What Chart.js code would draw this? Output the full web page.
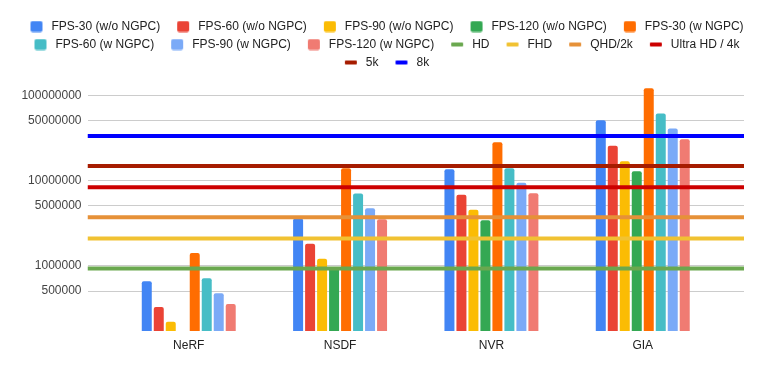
<!DOCTYPE html>
<html>
<head>
<meta charset="utf-8">
<script src="https://cdn.jsdelivr.net/npm/chart.js@4/dist/chart.umd.min.js"></script>
<style>
  html, body { margin: 0; padding: 0; background: #fff; }
  #wrap { width: 763px; height: 371px; }
</style>
</head>
<body>
<div id="wrap"><canvas id="chart"></canvas></div>
<script>
const categories = ["NeRF", "NSDF", "NVR", "GIA"];

// pixels per second
const fps30NoNgpc = [650000, 3550000, 13500000, 51000000];
const fps60NoNgpc = [325000, 1800000, 6750000, 25500000];
const fps90NoNgpc = [217000, 1200000, 4500000, 16800000];
const fps120NoNgpc = [null, 920000, 3400000, 12800000]; // NeRF bar falls below the axis
const fps30Ngpc = [1400000, 13900000, 28000000, 121000000];
const fps60Ngpc = [705000, 7000000, 13900000, 61000000];
const fps90Ngpc = [470000, 4700000, 9400000, 40800000];
const fps120Ngpc = [352000, 3500000, 7050000, 30500000];

const seriesLabels = [
  "FPS-30 (w/o NGPC)", "FPS-60 (w/o NGPC)", "FPS-90 (w/o NGPC)", "FPS-120 (w/o NGPC)",
  "FPS-30 (w NGPC)", "FPS-60 (w NGPC)", "FPS-90 (w NGPC)", "FPS-120 (w NGPC)",
];
const seriesValues = [
  fps30NoNgpc, fps60NoNgpc, fps90NoNgpc, fps120NoNgpc,
  fps30Ngpc, fps60Ngpc, fps90Ngpc, fps120Ngpc,
];
const seriesColors = [
  "#4285f4", "#ea4335", "#fbbc04", "#34a853",
  "#ff6d01", "#46bdc6", "#7baaf7", "#f07b72",
];

const resolutionLabels = ["HD", "FHD", "QHD/2k", "Ultra HD / 4k", "5k", "8k"];
const resolutionPixels = [921600, 2073600, 3686400, 8294400, 14745600, 33177600];
const resolutionColors = ["#6aa84f", "#f1c232", "#e69138", "#cc0000", "#a61c00", "#0000ff"];

const yTicks = [500000, 1000000, 5000000, 10000000, 50000000, 100000000];
const Y_MIN = 169000;
const Y_MAX = 157500000;
const X_MIN = -0.669;
const X_MAX = 3.669;

Chart.defaults.font.family = "'Liberation Sans', Arial, sans-serif";
Chart.defaults.font.size = 12;

function makeIcon(color, isLine) {
  const c = document.createElement("canvas");
  c.width = 26;
  c.height = 12;
  const g = c.getContext("2d");
  g.fillStyle = color;
  g.beginPath();
  if (isLine) {
    g.roundRect(11, 4, 12, 4, 1);
  } else {
    g.roundRect(11, 0.5, 12, 11, 2);
  }
  g.fill();
  return c;
}

const legendIcons = [];

const datasets = [];
seriesLabels.forEach(function (label, i) {
  datasets.push({
    type: "bar",
    label: label,
    data: seriesValues[i].map((v, j) => ({ x: j, y: v })),
    backgroundColor: seriesColors[i],
    borderRadius: 2,
    categoryPercentage: 0.634,
    barPercentage: 0.833,
  });
  legendIcons.push(makeIcon(seriesColors[i], false));
});
resolutionLabels.forEach(function (label, i) {
  datasets.push({
    type: "line",
    label: label,
    data: [
      { x: X_MIN, y: resolutionPixels[i] },
      { x: X_MAX, y: resolutionPixels[i] },
    ],
    borderColor: resolutionColors[i],
    backgroundColor: resolutionColors[i],
    borderWidth: 4,
    pointRadius: 0,
    fill: false,
    order: -1,
  });
  legendIcons.push(makeIcon(resolutionColors[i], true));
});

new Chart(document.getElementById("chart"), {
  type: "bar",
  data: { datasets: datasets },
  options: {
    responsive: true,
    maintainAspectRatio: false,
    animation: false,
    layout: { padding: { top: 14.5, bottom: 11.5, left: 0, right: 0 } },
    plugins: {
      tooltip: { enabled: false },
      legend: {
        position: "top",
        labels: {
          usePointStyle: true,
          pointStyleWidth: 26,
          boxHeight: 12,
          padding: 6,
          color: "#222",
          font: { size: 12 },
          generateLabels: function (chart) {
            return chart.data.datasets.map(function (ds, i) {
              return {
                text: ds.label,
                pointStyle: legendIcons[i],
                fillStyle: ds.backgroundColor,
                strokeStyle: ds.backgroundColor,
                lineWidth: 0,
                fontColor: "#222",
                hidden: !chart.isDatasetVisible(i),
                datasetIndex: i,
              };
            });
          },
        },
      },
    },
    scales: {
      x: {
        type: "linear",
        offset: false,
        min: X_MIN,
        max: X_MAX,
        grid: { display: false, drawTicks: false },
        border: { display: false },
        afterBuildTicks: function (axis) {
          axis.ticks = categories.map((c, i) => ({ value: i }));
        },
        ticks: {
          autoSkip: false,
          maxRotation: 0,
          padding: 7,
          color: "#222",
          callback: (value) => categories[value],
        },
      },
      y: {
        type: "logarithmic",
        min: Y_MIN,
        max: Y_MAX,
        afterBuildTicks: function (axis) {
          axis.ticks = yTicks.map((v) => ({ value: v }));
        },
        afterFit: function (axis) {
          axis.width = 87.5;
        },
        grid: { color: "#cccccc", drawTicks: false },
        border: { display: false },
        ticks: {
          padding: 6,
          color: "#444",
          callback: (value) => String(value),
        },
      },
      yPad: {
        type: "linear",
        position: "right",
        grid: { display: false },
        border: { display: false },
        ticks: { display: false },
        afterFit: function (axis) {
          axis.width = 19;
        },
      },
    },
  },
});
</script>
</body>
</html>
